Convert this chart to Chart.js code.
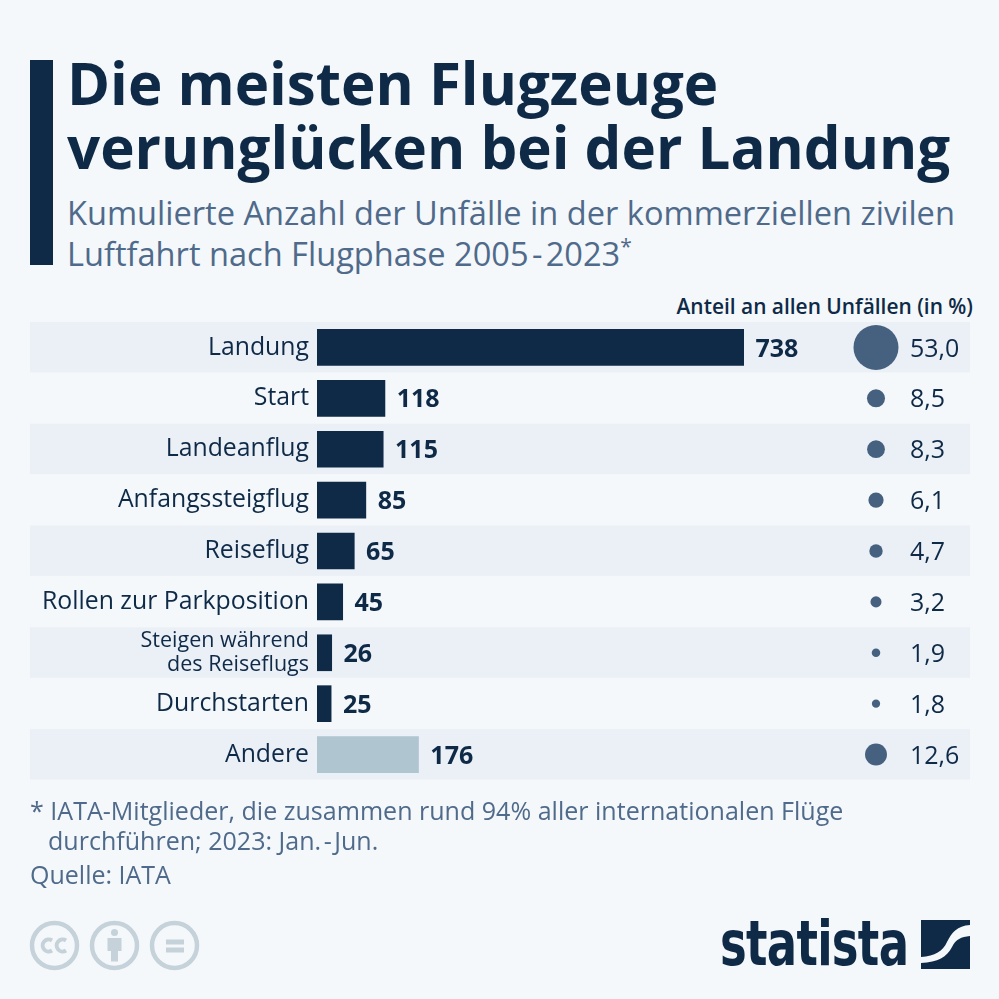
<!DOCTYPE html>
<html lang="de"><head><meta charset="utf-8">
<script src="https://cdn.jsdelivr.net/npm/chart.js@4/dist/chart.umd.min.js"></script>
<style>
html,body{margin:0;padding:0;background:#f4f8fb;width:999px;height:999px;overflow:hidden;font-family:"Open Sans",sans-serif}
#wrap{position:relative;width:999px;height:999px}
canvas#c{position:absolute;left:0;top:0}
.t{position:absolute;white-space:nowrap}
#rule{position:absolute;left:30px;top:60px;width:23px;height:205px;background:#0f2a47}
#title{left:67px;top:51px;font-size:58.25px;line-height:64px;font-weight:700;color:#0f2a47}
#sub{left:67px;top:192px;font-size:32.6px;line-height:41px;color:#4f6a8a}
#sub sup{font-size:21px;line-height:0;vertical-align:12px}
#head{right:26px;top:294px;font-size:20.9px;line-height:25px;font-weight:600;color:#0f2a47}
#note{left:30px;top:794.500px;font-size:25.05px;line-height:30.500px;color:#4f6a8a}
#note span{margin-left:18px}
#note i{font-style:normal;margin:0 2.500px}
#src{left:30px;top:858px;font-size:25px;line-height:32px;color:#4f6a8a}
#brand{left:720px;top:904px;font-family:"DejaVu Sans";font-weight:700;font-size:62px;line-height:80px;color:#0f2a47;transform-origin:0 0;transform:scaleX(.725);letter-spacing:-1px}
svg{position:absolute}
</style></head><body><div id="wrap">
<div id="rule"></div>
<div class="t" id="title">Die meisten Flugzeuge<br>verunglücken bei der Landung</div>
<div class="t" id="sub">Kumulierte Anzahl der Unfälle in der kommerziellen zivilen<br>Luftfahrt nach Flugphase 2005&#8202;-&#8202;2023<sup>*</sup></div>
<div class="t" id="head">Anteil an allen Unfällen (in %)</div>
<canvas id="c" width="999" height="999"></canvas>
<div class="t" id="note">* IATA-Mitglieder, die zusammen rund 94% aller internationalen Flüge<br><span>durchführen; 2023: Jan.<i>-</i>Jun.</span></div>
<div class="t" id="src">Quelle: IATA</div>
<svg style="left:0;top:900px" width="300" height="99" viewBox="0 0 300 99">
<g fill="none" stroke="#c5d2da" stroke-width="4.5"><circle cx="54.500" cy="45.500" r="22.500"/><circle cx="114.500" cy="45.500" r="22.500"/><circle cx="174.500" cy="45.500" r="22.500"/></g>
<g fill="none" stroke="#c5d2da" stroke-width="4"><path d="M52 40.500a6 6 0 1 0 0 10"/><path d="M66 40.500a6 6 0 1 0 0 10"/></g>
<g fill="#c5d2da"><circle cx="114.500" cy="32.500" r="3.500"/><path d="M107.500 38h14v13h-3.500v10.500h-7V51h-3.500z"/><rect x="166" y="39.500" width="18" height="5"/><rect x="166" y="47.500" width="18" height="5"/></g>
</svg>
<div class="t" id="brand">statista</div>
<svg style="left:921px;top:920px" width="49" height="50" viewBox="0 0 49 50">
<path fill="#0f2a47" d="M0 0H49V5C36 6 31 12 26 22C22 31 14 36 0 37Z"/>
<path fill="#0f2a47" d="M49 16V49H0V43C17 42 26 37 31 27C35 19 40 17 49 16Z"/>
</svg>
</div>
<script>
const categories = ["Landung","Start","Landeanflug","Anfangssteigflug","Reiseflug","Rollen zur Parkposition",["Steigen während","des Reiseflugs"],"Durchstarten","Andere"];
const accidents = [738,118,115,85,65,45,26,25,176];
const shares = [53.0,8.5,8.3,6.1,4.7,3.2,1.9,1.8,12.6];
const shareLabels = ["53,0","8,5","8,3","6,1","4,7","3,2","1,9","1,8","12,6"];

const NAVY="#0f2a47", GREY="#afc5d0", DOT="#45617f", STRIPE="#ebf0f7";
const keys = categories.map((c,i)=>i);

const rowsAndLabels = {
  id:"rowsAndLabels",
  beforeDraw(chart){
    const {ctx,scales:{y}}=chart;
    ctx.save(); ctx.fillStyle=STRIPE;
    const h=y.getPixelForValue(1)-y.getPixelForValue(0);
    keys.forEach(i=>{ if(i%2===0) ctx.fillRect(30,y.getPixelForValue(i)-h/2,940,h-0.5); });
    ctx.restore();
  },
  afterDatasetsDraw(chart){
    const {ctx,scales:{x,y}}=chart;
    ctx.save(); ctx.textBaseline="middle"; ctx.textAlign="left"; ctx.fillStyle=NAVY;
    keys.forEach(i=>{
      const py=y.getPixelForValue(i)+2;
      ctx.font='700 25px "Open Sans"';
      ctx.fillText(String(accidents[i]),x.getPixelForValue(accidents[i])+11.5,py);
      ctx.font='400 25px "Open Sans"';
      ctx.fillText(shareLabels[i],910,py);
    });
    ctx.restore();
  }
};

new Chart(document.getElementById("c"),{
  type:"bar",
  data:{
    labels:keys,
    datasets:[
      {type:"bar",indexAxis:"y",grouped:false,data:accidents,xAxisID:"x",yAxisID:"y",
       backgroundColor:keys.map(i=>i===8?GREY:NAVY),barPercentage:.72,categoryPercentage:1,order:2},
      {type:"bubble",data:shares.map((s,i)=>({x:559,y:i,r:Math.sqrt(s)*3.09})),xAxisID:"x2",yAxisID:"y",
       backgroundColor:DOT,borderWidth:0,order:1}
    ]
  },
  options:{
    responsive:false,animation:false,events:[],
    layout:{autoPadding:false,padding:{top:322,bottom:219,left:0,right:29}},
    plugins:{legend:{display:false},tooltip:{enabled:false},title:{display:false}},
    scales:{
      x:{type:"linear",offset:false,min:0,max:1128.6,display:false},
      x2:{type:"linear",offset:false,min:0,max:653,display:false},
      y:{type:"category",offset:true,
         grid:{display:false},border:{display:false},
         afterFit(s){s.width=317;},
         ticks:{autoSkip:false,padding:0,labelOffset:0,color:NAVY,
           callback(v,i){return categories[i];},
           font(ctx){return ctx.index===6?{family:'"Open Sans"',size:21.5,lineHeight:1.1}:{family:'"Open Sans"',size:24.8};}}}
    }
  },
  plugins:[rowsAndLabels]
});
</script></body></html>
